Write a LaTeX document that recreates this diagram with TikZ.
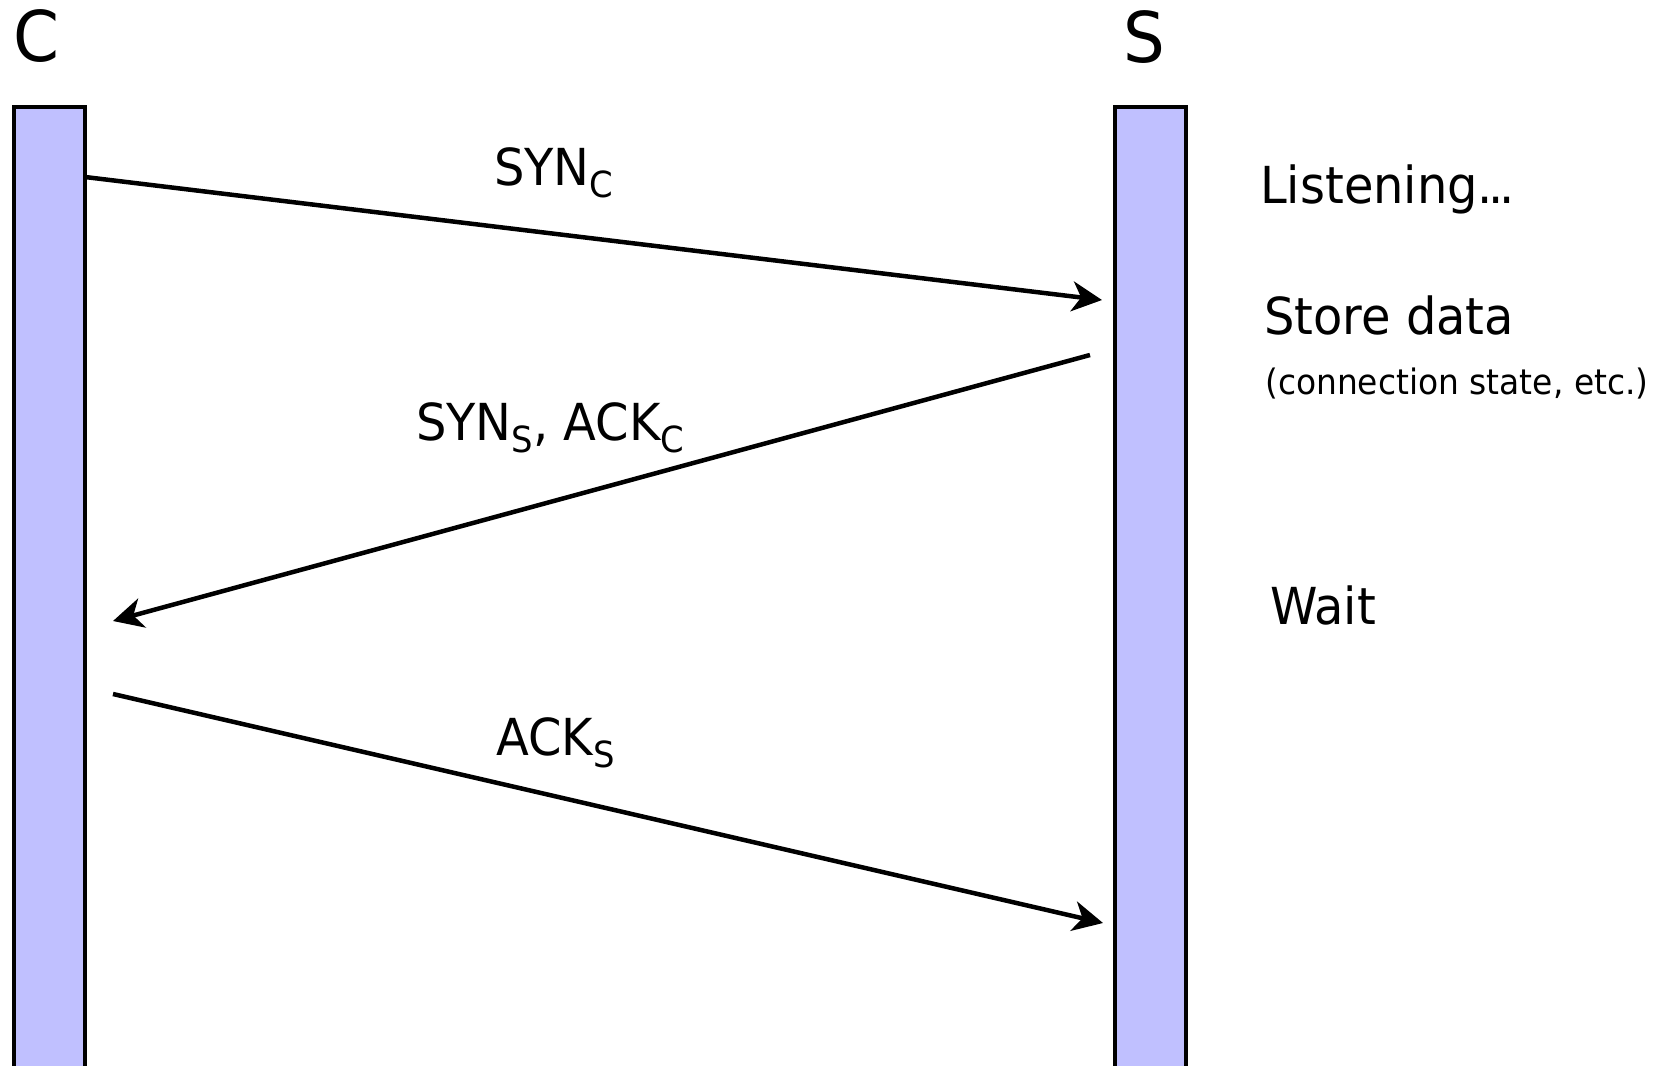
\documentclass[tikz,border=0pt]{standalone}
\usepackage{fontspec}
\setmainfont{DejaVu Sans}[FakeStretch=0.94]
\usetikzlibrary{arrows.meta}
\definecolor{barfill}{RGB}{192,192,255}
\newcommand{\lowsub}[1]{\raisebox{-12pt}{\fontsize{36}{40}\selectfont #1}}
\begin{document}
\begin{tikzpicture}[x=1pt,y=-1pt,
  lifeline/.style={draw=black, line width=4.2pt, fill=barfill, inner sep=0pt, outer sep=0pt,
    minimum width=71pt, minimum height=1000pt, anchor=north west},
  msg/.style={draw=black, line width=4.5pt, -{Stealth[length=30pt,width=30pt,inset=9pt]}},
  lbl/.style={inner sep=0pt, anchor=base west, font=\fontsize{51}{60}\selectfont},
  small/.style={inner sep=0pt, anchor=base west, font=\fontsize{35}{44}\selectfont},
  head/.style={inner sep=0pt, anchor=base west, font=\fontsize{70}{80}\selectfont}]
\useasboundingbox (0,0) rectangle (1659,1065);
\clip (0,0) rectangle (1659,1065);
% lifelines
\node[lifeline] (cbar) at (14,107) {};
\node[lifeline] (sbar) at (1115,107) {};
% headers
\node[head] (clbl) at (13,62) {C};
\node[head] (slbl) at (1123,63) {S};
% message end points
\coordinate (m1s) at (85,177);
\coordinate (m1e) at (1102,300);
\coordinate (m2s) at (1090,355);
\coordinate (m2e) at (113,621);
\coordinate (m3s) at (113,694);
\coordinate (m3e) at (1103,923);
\draw[msg] (m1s) -- (m1e);
\draw[msg] (m2s) -- (m2e);
\draw[msg] (m3s) -- (m3e);
% message labels
\node[lbl] (l1) at (494,185) {SYN\lowsub{C}};
\node[lbl] (l2) at (416,440) {SYN\lowsub{S}, ACK\lowsub{C}};
\node[lbl] (l3) at (496,755) {ACK\lowsub{S}};
% server notes
\node[lbl] (n1) at (1260,203) {Listening\kern-1pt.\kern-4pt.\kern-4pt.};
\node[lbl] (n2) at (1264,334) {Store data};
\node[small] (n3) at (1265,394) {(connection state, etc.)};
\node[lbl] (n4) at (1270,624) {Wait};
\end{tikzpicture}
\end{document}
